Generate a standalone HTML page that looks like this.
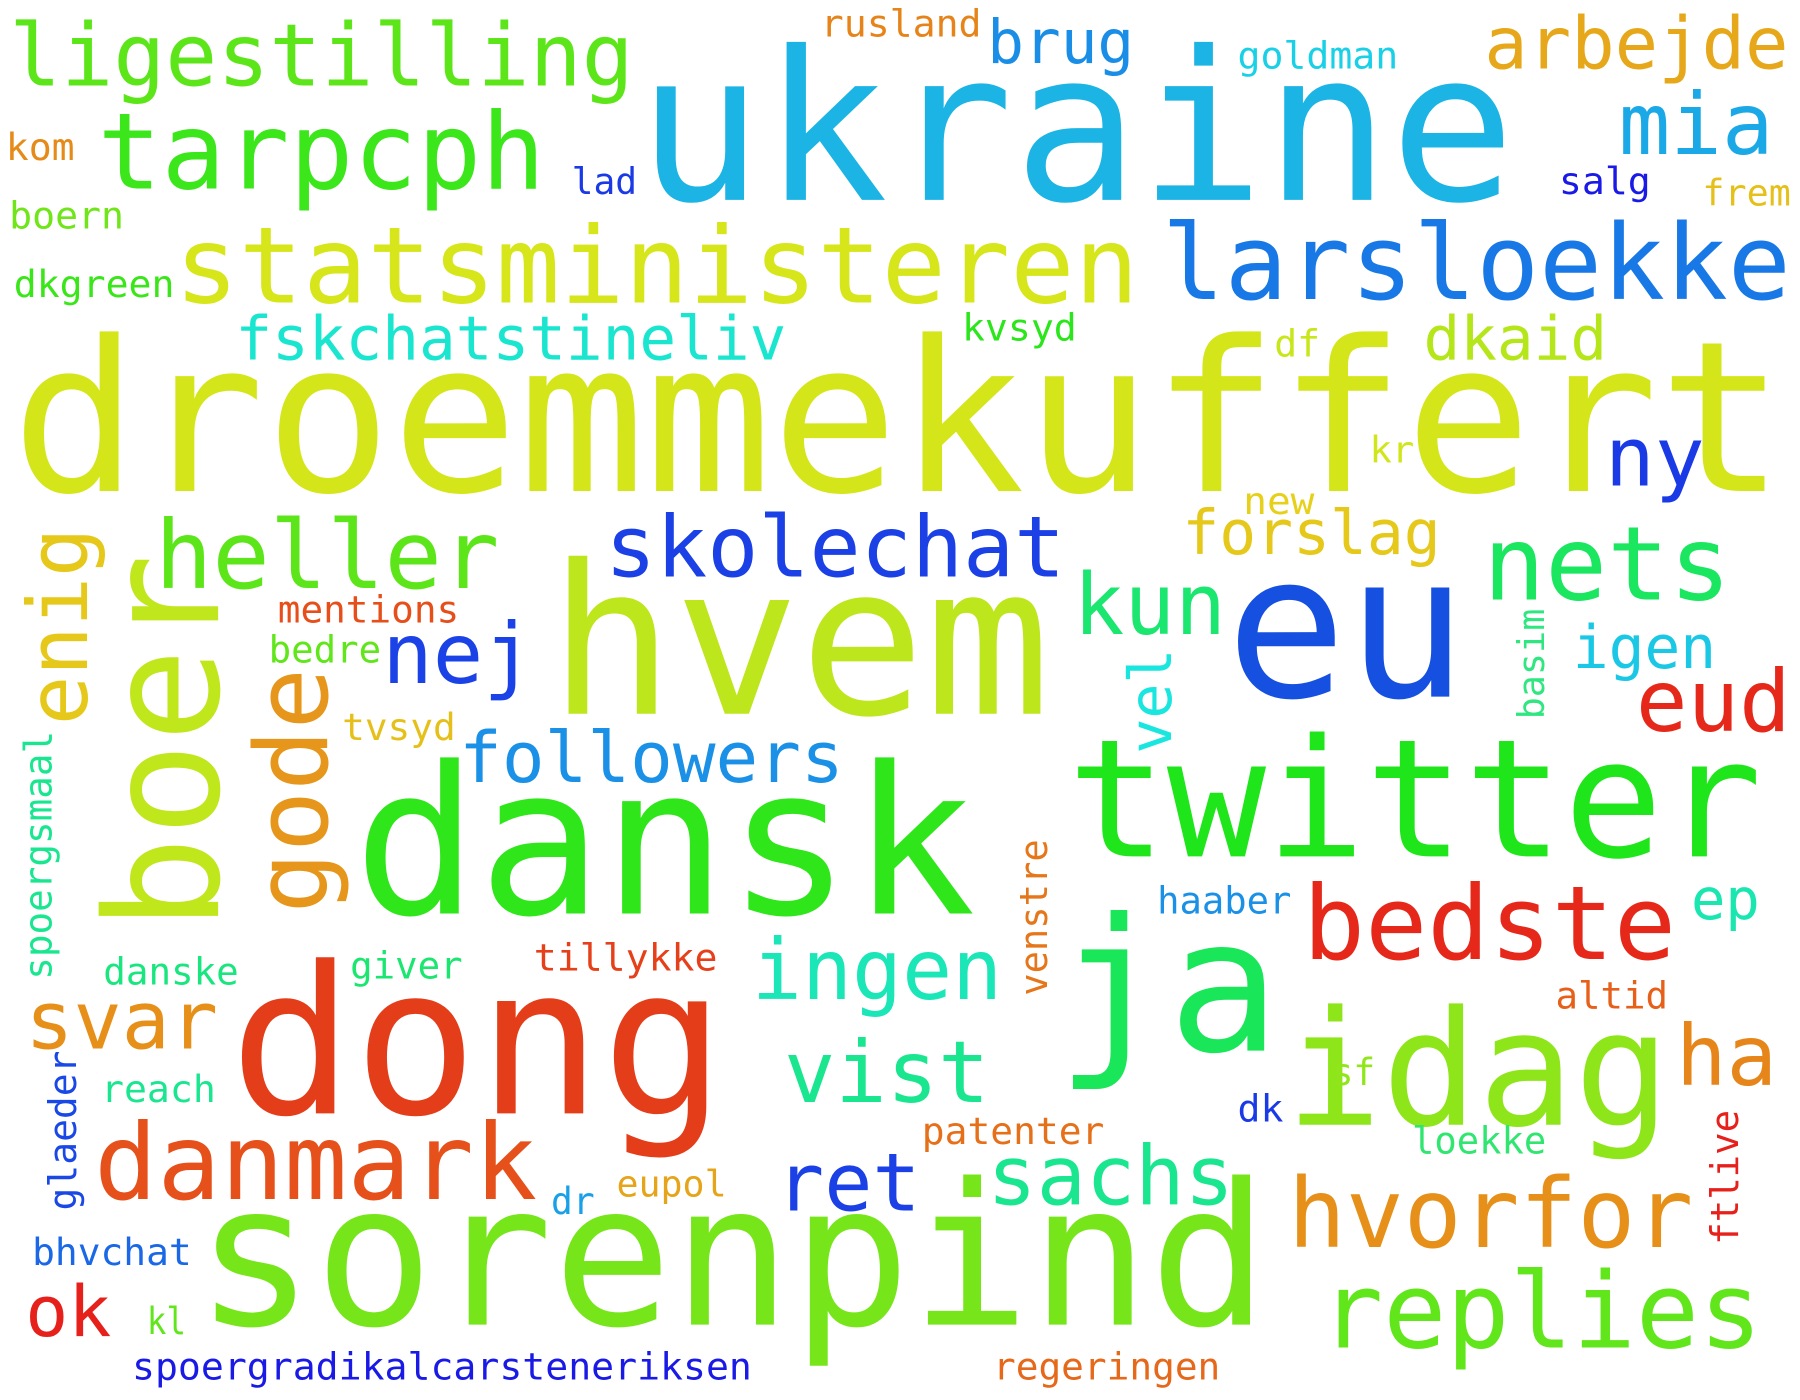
<!DOCTYPE html>
<html><head><meta charset="utf-8"><style>
html,body{margin:0;padding:0;background:#fff;width:1800px;height:1400px;overflow:hidden}
svg text{font-family:"DejaVu Sans Mono","Liberation Mono",monospace}
</style></head><body>
<svg id="cloud" width="1800" height="1400" viewBox="0 0 1568 1226" preserveAspectRatio="none" xmlns="http://www.w3.org/2000/svg"></svg>
<script>
// word, left x, baseline y, font size, text length, color, rotated
const words=["ukraine","droemmekuffert","hvem","eu","dansk","dong","ja","sorenpind","twitter","idag","statsministeren","larsloekke","ligestilling","tarpcph","arbejde","mia","brug","goldman","rusland","kom","lad","salg","frem","boern","dkgreen","fskchatstineliv","dkaid","kvsyd","df","ny","kr","new","heller","skolechat","forslag","nets","kun","nej","mentions","bedre","igen","eud","tvsyd","followers","bedste","ep","haaber","ingen","svar","giver","tillykke","danske","altid","vist","ha","reach","dk","sf","patenter","loekke","danmark","ret","sachs","eupol","dr","hvorfor","bhvchat","ok","kl","replies","spoergradikalcarsteneriksen","regeringen"];
const xs=[555,10,478,1068,308,200,920,170,930,1120,152,1012,8,85,1293,1410,860,1078,715,5,498,1358,1483,8,12,205,1240,838,1110,1398,1193,1083,135,527,1030,1292,935,333,242,234,1370,1425,298,400,1135,1473,1008,655,22,305,465,90,1355,683,1460,88,1078,1160,803,1230,82,676,860,537,480,1122,28,22,128,1150,115,865];
const ys=[175,430,625,610,800,975,920,1160,750,985,265,262,75,165,60,135,55,60,32,140,170,170,180,200,260,315,315,298,312,425,405,450,515,505,485,525,555,598,545,580,585,640,648,685,840,805,800,875,918,857,850,862,883,965,950,965,982,950,1002,1010,1050,1060,1055,1048,1063,1092,1108,1170,1168,1180,1208,1208];
const sizes=[182,184,182,175,180,180,162,173,144,140,93,91,76,93,63,75,53,33,33,33,32,33,32,33,33,53,53,33,33,72,32,33,83,74,54,90,74,73,33,33,52,75,33,62,90,50,33,73,70,33,33,33,33,75,73,33,33,33,33,33,92,70,72,32,33,84,33,62,33,92,33,33];
const widths=[765,1545,437,210,542,432,195,935,605,335,840,548,544,390,265,135,128,140,140,60,57,80,77,100,140,480,160,100,40,87,39,62,300,401,225,216,133,132,158,98,125,135,99,335,325,60,117,218,168,98,160,118,98,179,88,100,40,38,159,117,386,126,215,96,38,353,139,75,34,385,540,198];
const colors=["#1bb4e4","#d4e61a","#bde61c","#1650e0","#2ee61a","#e43d1a","#1ae65a","#76e61a","#1fe61a","#8ee61a","#d6e61a","#1878e6","#5ce61a","#3be61a","#e6a81a","#1aa8e6","#1a8ee6","#1ad0e6","#e6841a","#e68a1a","#1a3ae6","#1a1ae6","#e6c01a","#70e61a","#3ae61a","#1ae6d0","#b4e61a","#2ae61a","#c8e61a","#1a3ae6","#d0e61a","#e6d01a","#5ce61a","#1a40e6","#e6c81a","#1ae660","#1ae670","#1a42e6","#e64e1a","#60e61a","#1ac8e6","#e6281a","#e6c01a","#1a90e6","#e6281a","#1ae6b0","#1a90e6","#1ae6b8","#e6901a","#1ae670","#e6401a","#1ae680","#e6601a","#1ae690","#e6861a","#1ae690","#1a3ae6","#90e61a","#e6701a","#30e670","#e6501a","#1a40e6","#1ae690","#e6a41a","#1aa0e6","#e6901a","#1a68e6","#e6201a","#60e61a","#60e61a","#1a1ae6","#e6681a"];
// rotated words: baseline x, start y (bottom), size, length, color
const rWords=["boer","enig","gode","vel","basim","spoergsmaal","venstre","glaeder","ftlive"];
const rxs=[190,76,285,1020,1345,45,912,66,1514];
const rys=[815,635,800,660,630,858,872,1060,1090];
const rSizes=[137,72,88,51,32,33,33,33,33];
const rWidths=[330,173,215,92,97,218,137,140,118];
const rColors=["#c0e61c","#e6c81a","#e6961a","#1ae6e0","#30e680","#1ae690","#e6761a","#1a48e6","#e6201a"];
const svg=document.getElementById('cloud');
const NS="http://www.w3.org/2000/svg";
words.forEach((w,i)=>{
  const t=document.createElementNS(NS,'text');
  t.setAttribute('x',xs[i]);t.setAttribute('y',ys[i]);
  t.setAttribute('font-size',sizes[i]);t.setAttribute('fill',colors[i]);
  t.setAttribute('textLength',widths[i]);t.setAttribute('lengthAdjust','spacingAndGlyphs');
  
  
  t.textContent=w;svg.appendChild(t);
});
rWords.forEach((w,i)=>{
  const t=document.createElementNS(NS,'text');
  t.setAttribute('x',0);t.setAttribute('y',0);
  t.setAttribute('transform','translate('+rxs[i]+','+rys[i]+') rotate(-90)');
  t.setAttribute('font-size',rSizes[i]);t.setAttribute('fill',rColors[i]);
  t.setAttribute('textLength',rWidths[i]);t.setAttribute('lengthAdjust','spacingAndGlyphs');
  
  
  t.textContent=w;svg.appendChild(t);
});
</script>
</body></html>
